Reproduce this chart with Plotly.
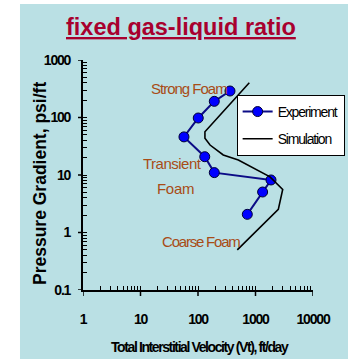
import plotly.graph_objects as go

# Measured pressure gradient vs. total interstitial velocity
exp_velocity = [360, 192, 101, 57, 131, 192, 1860, 1330, 720]
exp_gradient = [289, 191, 98, 46, 20.8, 11.0, 8.2, 5.06, 2.07]

# Model curve
sim_velocity = [780, 132, 132, 162, 275, 503, 1787, 2183, 2972, 2494, 482]
sim_gradient = [403, 56.6, 43.5, 33.2, 22.3, 18.2, 9.3, 7.6, 5.6, 2.53, 0.50]

x_decades = [1, 10, 100, 1000, 10000]
x_labels = ["1", "10", "100", "1000", "10000"]
y_decades = [0.1, 1, 10, 100, 1000]
y_labels = ["0.1", "1", "10", "100", "1000"]

BG = "rgb(186,224,228)"
SANS = "Liberation Sans, Arial, sans-serif"
LABEL_COLOR = "#A84C16"


def tight(text, spacing):
    """Wrap text in a span with condensed letter spacing."""
    return f'<span style="letter-spacing:{spacing}px">{text}</span>'


def log_ticks(decades, labels):
    """All 1..9 x 10^k tick positions, labelled only at the decades."""
    vals, text = [], []
    for d, lab in zip(decades[:-1], labels[:-1]):
        for m in range(1, 10):
            vals.append(d * m)
            text.append(tight(lab, -1.2) if m == 1 else "")
    vals.append(decades[-1])
    text.append(tight(labels[-1], -1.2))
    return vals, text


fig = go.Figure()

fig.add_trace(go.Scatter(
    x=exp_velocity, y=exp_gradient, name=tight("Experiment", -1.2),
    legendgroup="exp",
    mode="lines+markers",
    line=dict(color="#0C0C86", width=2),
    marker=dict(color="#0000FF", size=10, line=dict(color="#000033", width=1)),
))
fig.add_trace(go.Scatter(
    x=sim_velocity, y=sim_gradient, name=tight("Simulation", -1.2),
    legendgroup="sim",
    mode="lines",
    line=dict(color="black", width=1.6),
))

# white page margin on the left and top of the tinted panel
fig.add_shape(type="rect", xref="paper", yref="paper",
              x0=-0.5, x1=-0.274, y0=-0.5, y1=1.5,
              fillcolor="white", line=dict(width=0), layer="below")
fig.add_shape(type="rect", xref="paper", yref="paper",
              x0=-0.5, x1=1.5, y0=1.2435, y1=1.5,
              fillcolor="white", line=dict(width=0), layer="below")

# outward halves of the decade ticks (the inward halves come from the axes)
TICK_OUT_X = 6 / 230
TICK_OUT_Y = 5 / 230
for d in x_decades:
    fig.add_shape(type="line", xref="x", yref="paper", x0=d, x1=d,
                  y0=0, y1=-TICK_OUT_X, line=dict(color="black", width=1.5), layer="above")
for d in y_decades:
    fig.add_shape(type="line", xref="paper", yref="y", x0=0, x1=-TICK_OUT_Y,
                  y0=d, y1=d, line=dict(color="black", width=1.5), layer="above")

fig.add_annotation(text="<b><u>fixed gas-liquid ratio</u></b>", xref="paper", yref="paper",
                   x=0.426, y=1.142, xanchor="center", yanchor="middle", showarrow=False,
                   font=dict(family=SANS, size=23.5, color="#A8002E"))

for txt, x, y, sp in [("Strong Foam", 0.459, 0.874, -1.0), ("Transient", 0.391, 0.552, -0.5),
                      ("Foam", 0.40, 0.443, -0.3), ("Coarse Foam", 0.515, 0.211, -1.2)]:
    fig.add_annotation(text=tight(txt, sp), xref="paper", yref="paper", x=x, y=y,
                       xanchor="center", yanchor="middle", showarrow=False,
                       font=dict(family=SANS, size=15, color=LABEL_COLOR))

# axis titles
fig.add_annotation(text=tight("Total Interstitial Velocity (Vt), ft/day", -1.4),
                   xref="paper", yref="paper", x=0.509, y=-0.248,
                   xanchor="center", yanchor="middle", showarrow=False,
                   font=dict(family=SANS, size=14, color="black", weight="bold"))
fig.add_annotation(text="Pressure Gradient, psi/ft", textangle=-90,
                   xref="paper", yref="paper", x=-0.187, y=0.465,
                   xanchor="center", yanchor="middle", showarrow=False,
                   font=dict(family=SANS, size=17.5, color="black", weight="bold"))

fig.update_layout(
    width=348, height=359,
    margin=dict(l=83, r=35, t=60, b=69, autoexpand=False),
    paper_bgcolor=BG,
    plot_bgcolor=BG,
    showlegend=True,
    legend=dict(x=0.668, y=0.848, xanchor="left", yanchor="top",
                bgcolor="white", bordercolor="black", borderwidth=1,
                font=dict(family=SANS, size=14, color="black"),
                itemwidth=30, tracegroupgap=6),
)

x_vals, x_text = log_ticks(x_decades, x_labels)
y_vals, y_text = log_ticks(y_decades, y_labels)

base = dict(
    type="log", automargin=False,
    showgrid=False, zeroline=False,
    ticks="inside", ticklen=4, tickwidth=1, tickcolor="black",
    showline=True, linecolor="black", linewidth=2,
    tickfont=dict(family=SANS, size=14, color="black", weight="bold"),
)
fig.update_layout(
    xaxis=dict(range=[0, 4], tickmode="array", tickvals=x_vals, ticktext=x_text,
               ticklabelstandoff=15, **base),
    yaxis=dict(range=[-1, 3], tickmode="array", tickvals=y_vals, ticktext=y_text,
               ticklabelstandoff=8, **base),
)

fig.write_html("out.html")
